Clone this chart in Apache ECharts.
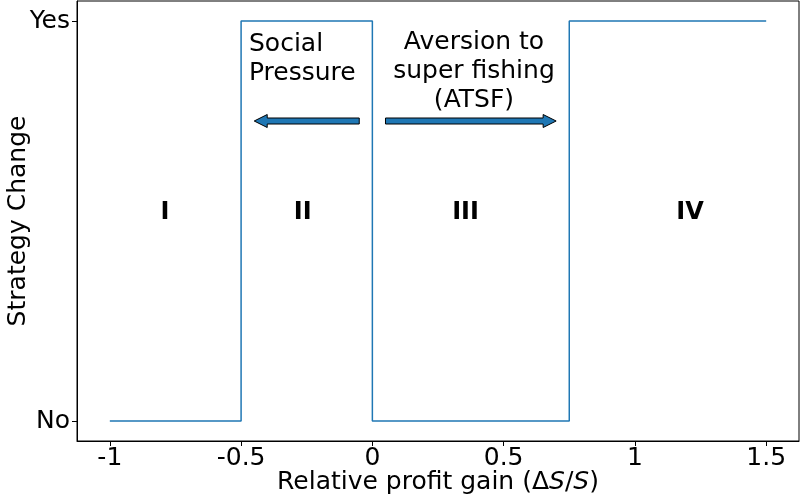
<!DOCTYPE html>
<html>
<head>
<meta charset="utf-8">
<script src="https://cdn.jsdelivr.net/npm/echarts@6/dist/echarts.min.js"></script>
<style>
  html, body { margin: 0; padding: 0; background: #ffffff; }
  #chart { width: 800px; height: 501px; }
</style>
</head>
<body>
<div id="chart"></div>
<script>
// step curve: value at each switching point (step: 'end')
var switchX = [-1, -0.5, 0, 0.75, 1.5];
var switchY = [0, 1, 0, 1, 1];

// axis ticks
var xTicks = [-1, -0.5, 0, 0.5, 1, 1.5];
var yTicks = [0, 1];
var yTickLabels = ['No', 'Yes'];

// region labels
var regionNames = ['I', 'II', 'III', 'IV'];
var regionX = [-0.79, -0.265, 0.355, 1.21];
var regionY = [0.52, 0.52, 0.52, 0.52];

// text notes
var noteText = ['Social\nPressure', 'Aversion to\nsuper fishing\n(ATSF)'];
var noteX = [-0.47, 0.387];
var noteY = [0.906, 0.874];
var noteAlign = ['left', 'center'];

// arrows: start x, end x, y
var arrowFrom = [-0.05, 0.05];
var arrowTo = [-0.45, 0.70];
var arrowY = [0.75, 0.75];

var FONT = 'DejaVu Sans';
var BLUE = '#1f77b4';

var chart = echarts.init(document.getElementById('chart'));

var lineData = switchX.map(function (x, i) { return [x, switchY[i]]; });
var regionData = regionNames.map(function (n, i) { return { value: [regionX[i], regionY[i]], name: n }; });
var noteData = noteText.map(function (t, i) {
  return {
    value: [noteX[i], noteY[i]],
    name: t,
    label: { align: noteAlign[i] }
  };
});
var arrowData = arrowFrom.map(function (x, i) { return [x, arrowTo[i], arrowY[i]]; });

function renderArrow(params, api) {
  var p1 = api.coord([api.value(0), api.value(2)]);
  var p2 = api.coord([api.value(1), api.value(2)]);
  var dir = p2[0] > p1[0] ? 1 : -1;
  var hw = 3, headW = 6.5, headL = 13;
  var bx = p2[0] - dir * headL;
  var y = p1[1];
  var pts = [
    [p1[0], y - hw], [bx, y - hw], [bx, y - headW], [p2[0], y],
    [bx, y + headW], [bx, y + hw], [p1[0], y + hw]
  ];
  return {
    type: 'polygon',
    shape: { points: pts },
    style: { fill: BLUE, stroke: '#000000', lineWidth: 1 }
  };
}

var option = {
  animation: false,
  backgroundColor: '#ffffff',
  grid: {
    left: 77, right: 1, top: 1, bottom: 60,
    containLabel: false,
    outerBoundsMode: 'none',
    show: true, borderColor: '#000000', borderWidth: 1, backgroundColor: 'transparent'
  },
  xAxis: {
    type: 'value',
    min: -1.125,
    max: 1.625,
    splitLine: { show: false },
    axisLine: { show: true, onZero: false, lineStyle: { color: '#000', width: 1 } },
    axisTick: { show: true, customValues: xTicks, length: 5, lineStyle: { color: '#000' } },
    axisLabel: {
      customValues: xTicks,
      color: '#000', fontFamily: FONT, fontSize: 25, margin: 5
    },
    name: '{a|Relative profit gain (Δ}{i|S}{a|/}{i|S}{a|)}',
    nameLocation: 'middle',
    nameGap: 29,
    nameMoveOverlap: false,
    nameTextStyle: {
      rich: {
        a: { fontFamily: FONT, fontSize: 25, color: '#000' },
        i: { fontFamily: FONT, fontSize: 25, color: '#000', fontStyle: 'italic' }
      }
    }
  },
  yAxis: {
    type: 'value',
    min: -0.05,
    max: 1.05,
    splitLine: { show: false },
    axisLine: { show: true, onZero: false, lineStyle: { color: '#000', width: 1 } },
    axisTick: { show: true, customValues: yTicks, length: 5, lineStyle: { color: '#000' } },
    axisLabel: {
      customValues: yTicks,
      color: '#000', fontFamily: FONT, fontSize: 25, margin: 7,
      formatter: function (v) { return yTickLabels[yTicks.indexOf(v)]; }
    },
    name: 'Strategy Change',
    nameLocation: 'middle',
    nameGap: 46,
    nameMoveOverlap: false,
    nameTextStyle: { fontFamily: FONT, fontSize: 25, color: '#000' }
  },
  series: [
    {
      type: 'line',
      step: 'end',
      data: lineData,
      showSymbol: false,
      symbol: 'none',
      lineStyle: { color: BLUE, width: 1.5 },
      silent: true
    },
    {
      type: 'scatter',
      data: regionData,
      symbolSize: 0,
      silent: true,
      itemStyle: { opacity: 1 },
      label: {
        show: true, position: 'inside',
        formatter: function (p) { return p.name; },
        fontFamily: FONT, fontSize: 24, fontWeight: 'bold', color: '#000',
        textBorderWidth: 0,
        align: 'center', verticalAlign: 'middle'
      }
    },
    {
      type: 'scatter',
      data: noteData,
      symbolSize: 0,
      silent: true,
      itemStyle: { opacity: 1 },
      label: {
        show: true, position: 'inside',
        formatter: function (p) { return p.name; },
        fontFamily: FONT, fontSize: 25, color: '#000', lineHeight: 29,
        textBorderWidth: 0,
        verticalAlign: 'middle'
      }
    },
    {
      type: 'custom',
      data: arrowData,
      encode: { x: [0, 1], y: 2 },
      renderItem: renderArrow,
      silent: true
    }
  ]
};

chart.setOption(option);
</script>
</body>
</html>
